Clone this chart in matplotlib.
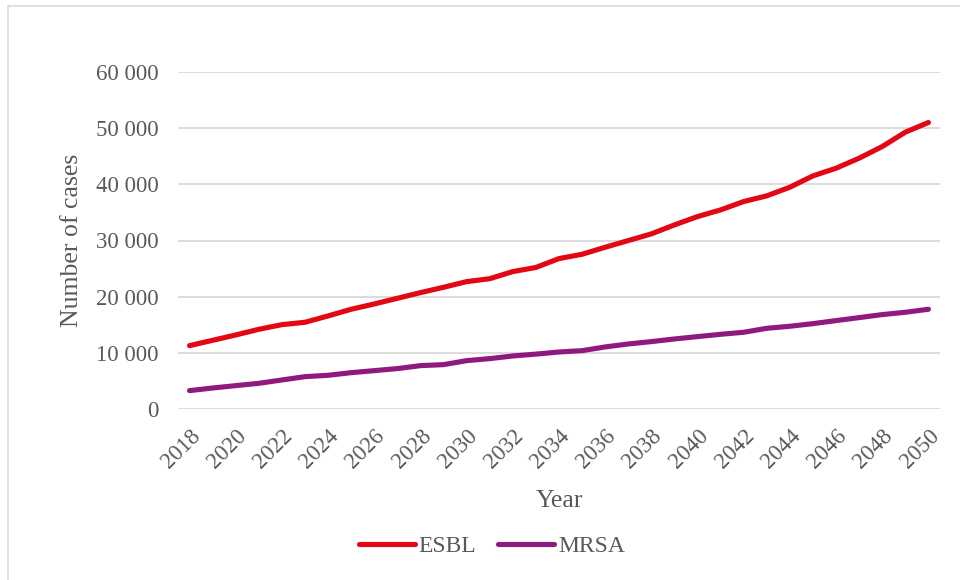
import matplotlib
matplotlib.use('Agg')
from matplotlib import pyplot as plt
from matplotlib.patches import Rectangle
from matplotlib.ticker import FuncFormatter

years = list(range(2018, 2051))
esbl = [11280, 12230, 13180, 14190, 15020, 15440, 16570, 17760, 18700, 19710,
        20720, 21670, 22680, 23200, 24470, 25200, 26780, 27550, 28800, 29990,
        31180, 32780, 34260, 35450, 36940, 37950, 39490, 41510, 42870, 44660,
        46730, 49290, 51010]
mrsa = [3270, 3740, 4160, 4570, 5170, 5760, 6000, 6470, 6830, 7190,
        7720, 7900, 8610, 8970, 9440, 9770, 10150, 10390, 11050, 11580,
        12000, 12470, 12890, 13300, 13660, 14370, 14730, 15200, 15740, 16270,
        16810, 17220, 17760]
series_names = ['ESBL', 'MRSA']
series_colors = ['#E30613', '#8E1A7E']

TEXT = '#595959'
GRID = '#D9D9D9'
plt.rcParams['font.family'] = ['Liberation Serif', 'DejaVu Serif']

fig = plt.figure(figsize=(9.6, 5.8), dpi=100)
ax = fig.add_axes([178 / 960, 1 - 409 / 580, (940 - 178) / 960, (409 - 72) / 580])

# outer chart border (cropped at the right and bottom)
fig.patches.append(Rectangle((8 / 960, -0.05), 1.1, 1 - 6 / 580 + 0.05,
                             transform=fig.transFigure, fill=False,
                             edgecolor=GRID, linewidth=1.2))

x = range(len(years))
for vals, name, col in zip([esbl, mrsa], series_names, series_colors):
    ax.plot(x, vals, color=col, linewidth=3.7, solid_capstyle='round', label=name)

ax.set_xlim(-0.5, len(years) - 0.5)
ax.set_ylim(0, 60000)
ax.set_yticks(range(0, 60001, 10000))
ax.yaxis.set_major_formatter(FuncFormatter(lambda v, p: f'{int(v):,}'.replace(',', ' ')))
ax.set_xticks(list(x)[::2])
ax.set_xticklabels([str(y) for y in years[::2]], rotation=45, ha='right', va='top',
                   rotation_mode='anchor')

ax.grid(axis='y', color=GRID, linewidth=1.3)
ax.set_axisbelow(True)
for s in ax.spines.values():
    s.set_visible(False)
ax.tick_params(length=0, labelsize=16.5, colors=TEXT)
ax.tick_params(axis='y', pad=14)
ax.tick_params(axis='x', pad=12)

ax.set_xlabel('Year', fontsize=18.5, color=TEXT, labelpad=12)
ax.set_ylabel('Number of cases', fontsize=18.5, color=TEXT, labelpad=9)

leg = fig.legend(loc='center', bbox_to_anchor=(492 / 960, 1 - 546 / 580), ncol=2,
                 frameon=False, fontsize=17, handlelength=2.37, handletextpad=0.17,
                 columnspacing=0.93)
for t in leg.get_texts():
    t.set_color(TEXT)

fig.savefig('out.png', dpi=100)
